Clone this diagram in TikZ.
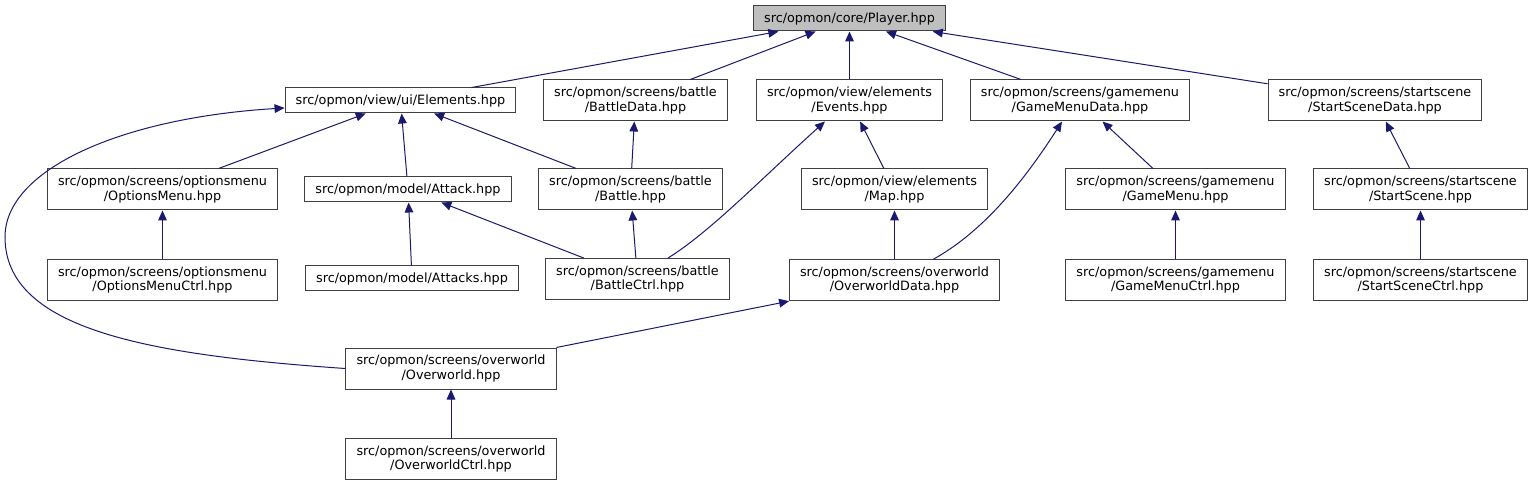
\documentclass[tikz,border=0pt]{standalone}
\usepackage{fontspec}
\setmainfont{DejaVu Sans}
\usetikzlibrary{arrows.meta,positioning}
\definecolor{edgeblue}{HTML}{191970}
\definecolor{rootgray}{HTML}{BFBFBF}
\definecolor{boxline}{HTML}{404040}

\begin{document}
\begin{tikzpicture}[
    x=0.75pt, y=-0.75pt,
    >={Triangle[length=7.5pt,width=6.5pt]},
    node distance=36.5pt,
    file/.style={draw=boxline,line width=0.75pt,fill=white,align=center,
      inner xsep=8pt,inner ysep=2pt,minimum height=30.75pt,
      font=\fontsize{9.6}{10.8}\selectfont},
    onefile/.style={file,minimum height=18.75pt},
    link/.style={draw=edgeblue,->,line width=0.75pt},
    every edge/.style={link}
  ]
    \useasboundingbox (0,0) rectangle (1533,484);

    \node[onefile,fill=rootgray] (pl) at (849.5,18.5) {src/opmon/core/Player.hpp};

    \node[onefile] (el) at (400.5,100.5) {src/opmon/view/ui/Elements.hpp};
    \node[file] (bd) at (635.5,100.5) {src/opmon/screens/battle\\/BattleData.hpp};
    \node[file] (ev) at (849.5,100.5) {src/opmon/view/elements\\/Events.hpp};
    \node[file] (gmd) at (1080,100.5) {src/opmon/screens/gamemenu\\/GameMenuData.hpp};
    \node[file] (ssd) at (1375,100.5) {src/opmon/screens/startscene\\/StartSceneData.hpp};

    \node[file] (om) at (162.5,189.5) {src/opmon/screens/optionsmenu\\/OptionsMenu.hpp};
    \node[onefile] (atk) at (408,189.5) {src/opmon/model/Attack.hpp};
    \node[file] (bt) at (630.5,189.5) {src/opmon/screens/battle\\/Battle.hpp};
    \node[file] (mp) at (894.5,189.5) {src/opmon/view/elements\\/Map.hpp};
    \node[file] (gm) at (1175.5,189.5) {src/opmon/screens/gamemenu\\/GameMenu.hpp};
    \node[file] (ss) at (1420.5,189.5) {src/opmon/screens/startscene\\/StartScene.hpp};

    \node[file] (omc) [below=of om] {src/opmon/screens/optionsmenu\\/OptionsMenuCtrl.hpp};
    \node[onefile] (atks) at (412,278.5) {src/opmon/model/Attacks.hpp};
    \node[file] (btc) at (637.5,279) {src/opmon/screens/battle\\/BattleCtrl.hpp};
    \node[file] (owd) [below=of mp] {src/opmon/screens/overworld\\/OverworldData.hpp};
    \node[file] (gmc) [below=of gm] {src/opmon/screens/gamemenu\\/GameMenuCtrl.hpp};
    \node[file] (ssc) [below=of ss] {src/opmon/screens/startscene\\/StartSceneCtrl.hpp};

    \node[file] (ow) at (451,368.5) {src/opmon/screens/overworld\\/Overworld.hpp};
    \node[file] (owc) [below=of ow] {src/opmon/screens/overworld\\/OverworldCtrl.hpp};

    \path (el) edge (pl)
          (bd) edge (pl)
          (ev) edge (pl)
          (gmd) edge (pl)
          (ssd) edge (pl)
          (om) edge (el)
          (atk) edge (el)
          (bt) edge (el)
          (bt) edge (bd)
          (mp) edge (ev)
          (gm) edge (gmd)
          (ss) edge (ssd)
          (omc) edge (om)
          (atks) edge (atk)
          (btc) edge (atk)
          (btc) edge (bt)
          (owd) edge (mp)
          (gmc) edge (gm)
          (ssc) edge (ss)
          (ow) edge (owd)
          (owc) edge (ow);

    % curved links
    \draw[link] (ow.west) .. controls (150,355) and (5,330) .. (5,237)
                .. controls (5,170) and (120,118) .. ([yshift=-5.6pt]el.west);
    \draw[link] ([xshift=22.9pt]btc.north) .. controls (710,232) and (760,180) .. ([xshift=-18.4pt]ev.south);
    \draw[link] ([xshift=29.25pt]owd.north) .. controls (975,236) and (1015,195) .. ([xshift=-13.5pt]gmd.south);
  \end{tikzpicture}
\end{document}
